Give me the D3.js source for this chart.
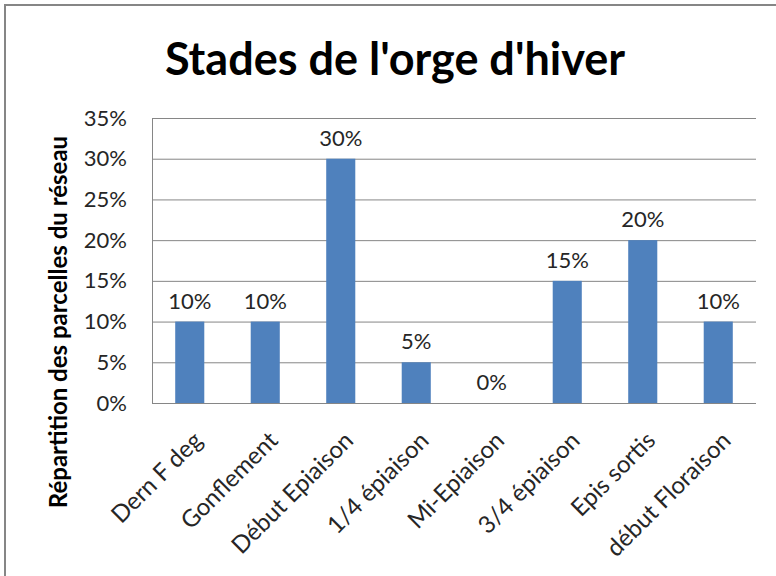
<!DOCTYPE html>
<html><head><meta charset="utf-8">
<script src="https://cdn.jsdelivr.net/npm/d3@7"></script>
<style>body{margin:0;background:#fff}svg{display:block}text{font-family:Lato,"Open Sans",sans-serif}</style>
</head><body>
<svg id="c" width="776" height="576"></svg>
<script>
const categories = ["Dern F deg","Gonflement","Début Epiaison","1/4 épiaison","Mi-Epiaison","3/4 épiaison","Epis sortis","début Floraison"];
const values = [0.10,0.10,0.30,0.05,0.00,0.15,0.20,0.10];
const yTicks = [0,0.05,0.10,0.15,0.20,0.25,0.30,0.35];
const title = "Stades de l'orge d'hiver";
const yTitle = "Répartition des parcelles du réseau";

const svg = d3.select("#c");
svg.append("rect").attr("x",5).attr("y",5).attr("width",800).attr("height",600)
  .attr("fill","#fff").attr("stroke","#868686").attr("stroke-width",2);

const m = {l:152, r:756, t:118, b:403};
const x = d3.scaleBand().domain(categories).range([m.l,m.r]).paddingInner(0.615).paddingOuter(0.3075);
const y = d3.scaleLinear().domain([0,0.35]).range([m.b,m.t]);

// gridlines
svg.append("g").selectAll("line").data(yTicks).join("line")
  .attr("x1",m.l).attr("x2",m.r).attr("y1",d=>y(d)+0.5).attr("y2",d=>y(d)+0.5)
  .attr("stroke","#868686").attr("stroke-width",1);
svg.append("line").attr("x1",m.l+0.5).attr("x2",m.l+0.5).attr("y1",m.t).attr("y2",m.b)
  .attr("stroke","#868686");

// y axis labels
const yAxis = d3.axisLeft(y).tickValues(yTicks).tickFormat(d3.format(".0%")).tickSize(0).tickPadding(0);
const gy = svg.append("g").attr("transform",`translate(127,0)`).call(yAxis);
gy.select(".domain").remove();
gy.selectAll("text").attr("font-size",22).attr("fill","#262626").attr("font-family","Lato,sans-serif");

// bars
svg.append("g").selectAll("rect").data(values).join("rect")
  .attr("x",(d,i)=>x(categories[i])).attr("width",x.bandwidth())
  .attr("y",d=>y(d)).attr("height",d=>m.b-y(d)).attr("fill","#4F81BD");

// redraw baseline over bars
svg.append("line").attr("x1",m.l).attr("x2",m.r).attr("y1",m.b+0.5).attr("y2",m.b+0.5).attr("stroke","#868686");

// value labels
svg.append("g").selectAll("text").data(values).join("text")
  .attr("x",(d,i)=>x(categories[i])+x.bandwidth()/2).attr("y",d=>y(d)-13)
  .attr("text-anchor","middle").attr("font-size",22).attr("fill","#262626")
  .text(d=>d3.format(".0%")(d));

// x labels
const xAxis = d3.axisBottom(x).tickSize(0).tickPadding(0);
const gx = svg.append("g").attr("transform",`translate(0,${m.b})`).call(xAxis);
gx.select(".domain").remove();
gx.selectAll("text").attr("font-size",24).attr("fill","#262626").attr("font-family","Lato,sans-serif")
  .attr("text-anchor","end").attr("dy",0).attr("y",0)
  .attr("transform","translate(14,39) rotate(-45)");

// title
svg.append("text").attr("x",395).attr("y",75).attr("text-anchor","middle")
  .attr("font-size",45).attr("font-weight","bold").attr("fill","#000").text(title);

// y title
svg.append("text").attr("transform",`translate(67,322) rotate(-90)`).attr("text-anchor","middle")
  .attr("font-size",24).attr("font-weight","bold").attr("fill","#000").text(yTitle);
</script>
</body></html>
